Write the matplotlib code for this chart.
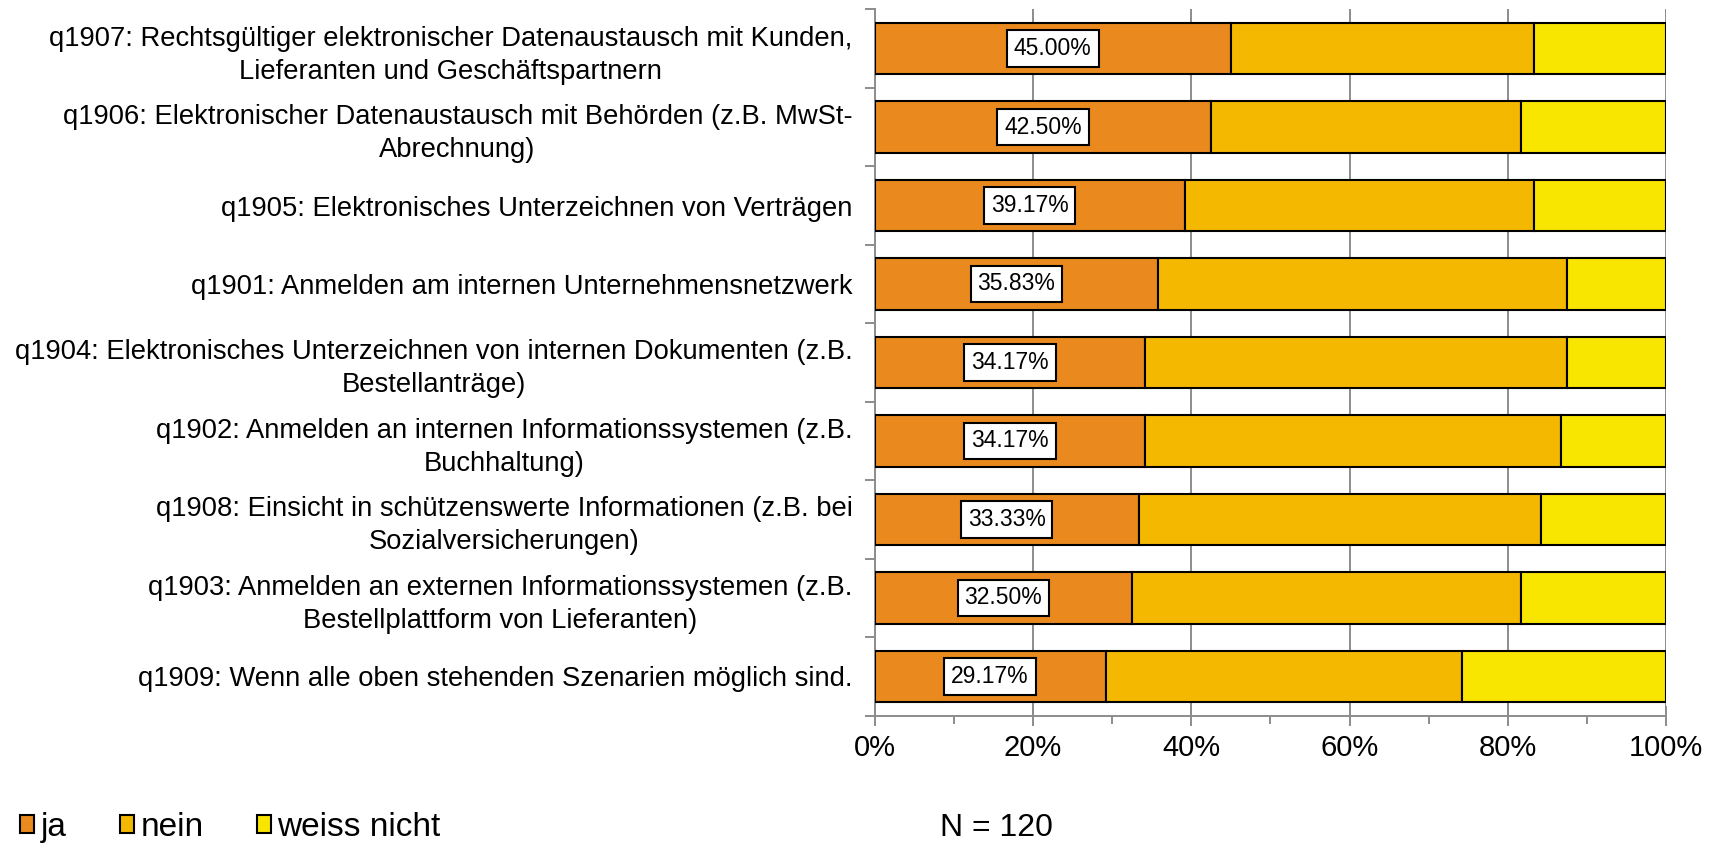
import numpy as np
import matplotlib
matplotlib.use('Agg')
import matplotlib.pyplot as plt
from matplotlib.ticker import MultipleLocator, PercentFormatter
from matplotlib.patches import Patch

plt.rcParams['font.family'] = ['Liberation Sans', 'DejaVu Sans']

# Fragen (von oben nach unten)
fragen = [
    'q1907: Rechtsgültiger elektronischer Datenaustausch mit Kunden,\nLieferanten und Geschäftspartnern',
    'q1906: Elektronischer Datenaustausch mit Behörden (z.B. MwSt-\nAbrechnung)',
    'q1905: Elektronisches Unterzeichnen von Verträgen',
    'q1901: Anmelden am internen Unternehmensnetzwerk',
    'q1904: Elektronisches Unterzeichnen von internen Dokumenten (z.B.\nBestellanträge)',
    'q1902: Anmelden an internen Informationssystemen (z.B.\nBuchhaltung)',
    'q1908: Einsicht in schützenswerte Informationen (z.B. bei\nSozialversicherungen)',
    'q1903: Anmelden an externen Informationssystemen (z.B.\nBestellplattform von Lieferanten)',
    'q1909: Wenn alle oben stehenden Szenarien möglich sind.',
]
ja = [45.00, 42.50, 39.17, 35.83, 34.17, 34.17, 33.33, 32.50, 29.17]
nein = [38.33, 39.17, 44.17, 51.67, 53.33, 52.50, 50.83, 49.17, 45.00]
weiss_nicht = [16.67, 18.33, 16.67, 12.50, 12.50, 13.33, 15.83, 18.33, 25.83]

farben = ['#EA8A1E', '#F5B800', '#F8E500']
namen = ['ja', 'nein', 'weiss nicht']

fig = plt.figure(figsize=(17.15, 8.43), dpi=100)
ax = fig.add_axes([0.510, 0.151, 0.4616, 0.838])

y = np.arange(len(fragen))
links = np.zeros(len(fragen))
for werte, farbe in zip([ja, nein, weiss_nicht], farben):
    ax.barh(y, werte, left=links, height=0.66, color=farbe,
            edgecolor='black', linewidth=1.5, zorder=3)
    links = links + np.array(werte)

# Beschriftung nur für "ja"
for i, w in enumerate(ja):
    ax.text(w / 2, i, f'{w:.2f}%', ha='center', va='center', fontsize=16.5,
            zorder=4, bbox=dict(boxstyle='square,pad=0.3', facecolor='white',
                                edgecolor='black', linewidth=1.5))

ax.set_xlim(0, 100)
ax.set_ylim(len(fragen) - 0.5, -0.5)
ax.xaxis.set_major_locator(MultipleLocator(20))
ax.xaxis.set_minor_locator(MultipleLocator(10))
ax.xaxis.set_major_formatter(PercentFormatter(decimals=0))
ax.grid(axis='x', which='major', color='#8C8C8C', linewidth=1.4, zorder=0)
ax.tick_params(axis='x', which='major', direction='inout', length=14,
               width=1.4, color='#8C8C8C', labelsize=21, pad=6)
ax.tick_params(axis='x', which='minor', direction='out', length=6,
               width=1.4, color='#8C8C8C')

ax.set_yticks(y)
ax.set_yticklabels(fragen, fontsize=19.7, multialignment='center', linespacing=1.35)
ax.set_yticks(np.arange(-0.5, len(fragen)), minor=True)
ax.tick_params(axis='y', which='major', length=0, pad=16)
ax.tick_params(axis='y', which='minor', direction='out', length=7,
               width=1.4, color='#8C8C8C')

for s in ['top', 'right']:
    ax.spines[s].set_visible(False)
for s in ['left', 'bottom']:
    ax.spines[s].set_color('#8C8C8C')
    ax.spines[s].set_linewidth(1.4)

handles = [Patch(facecolor=f, edgecolor='black', linewidth=1.5) for f in farben]
fig.legend(handles, namen, loc='lower left', bbox_to_anchor=(0.0115, 0.0),
           ncol=3, frameon=False, fontsize=24, handlelength=0.42, handleheight=0.42,
           handletextpad=0.2, columnspacing=1.6, borderpad=0, borderaxespad=0)

fig.text(0.548, 0.0, 'N = 120', fontsize=23, ha='left', va='bottom')

fig.savefig('out.png', dpi=100)
